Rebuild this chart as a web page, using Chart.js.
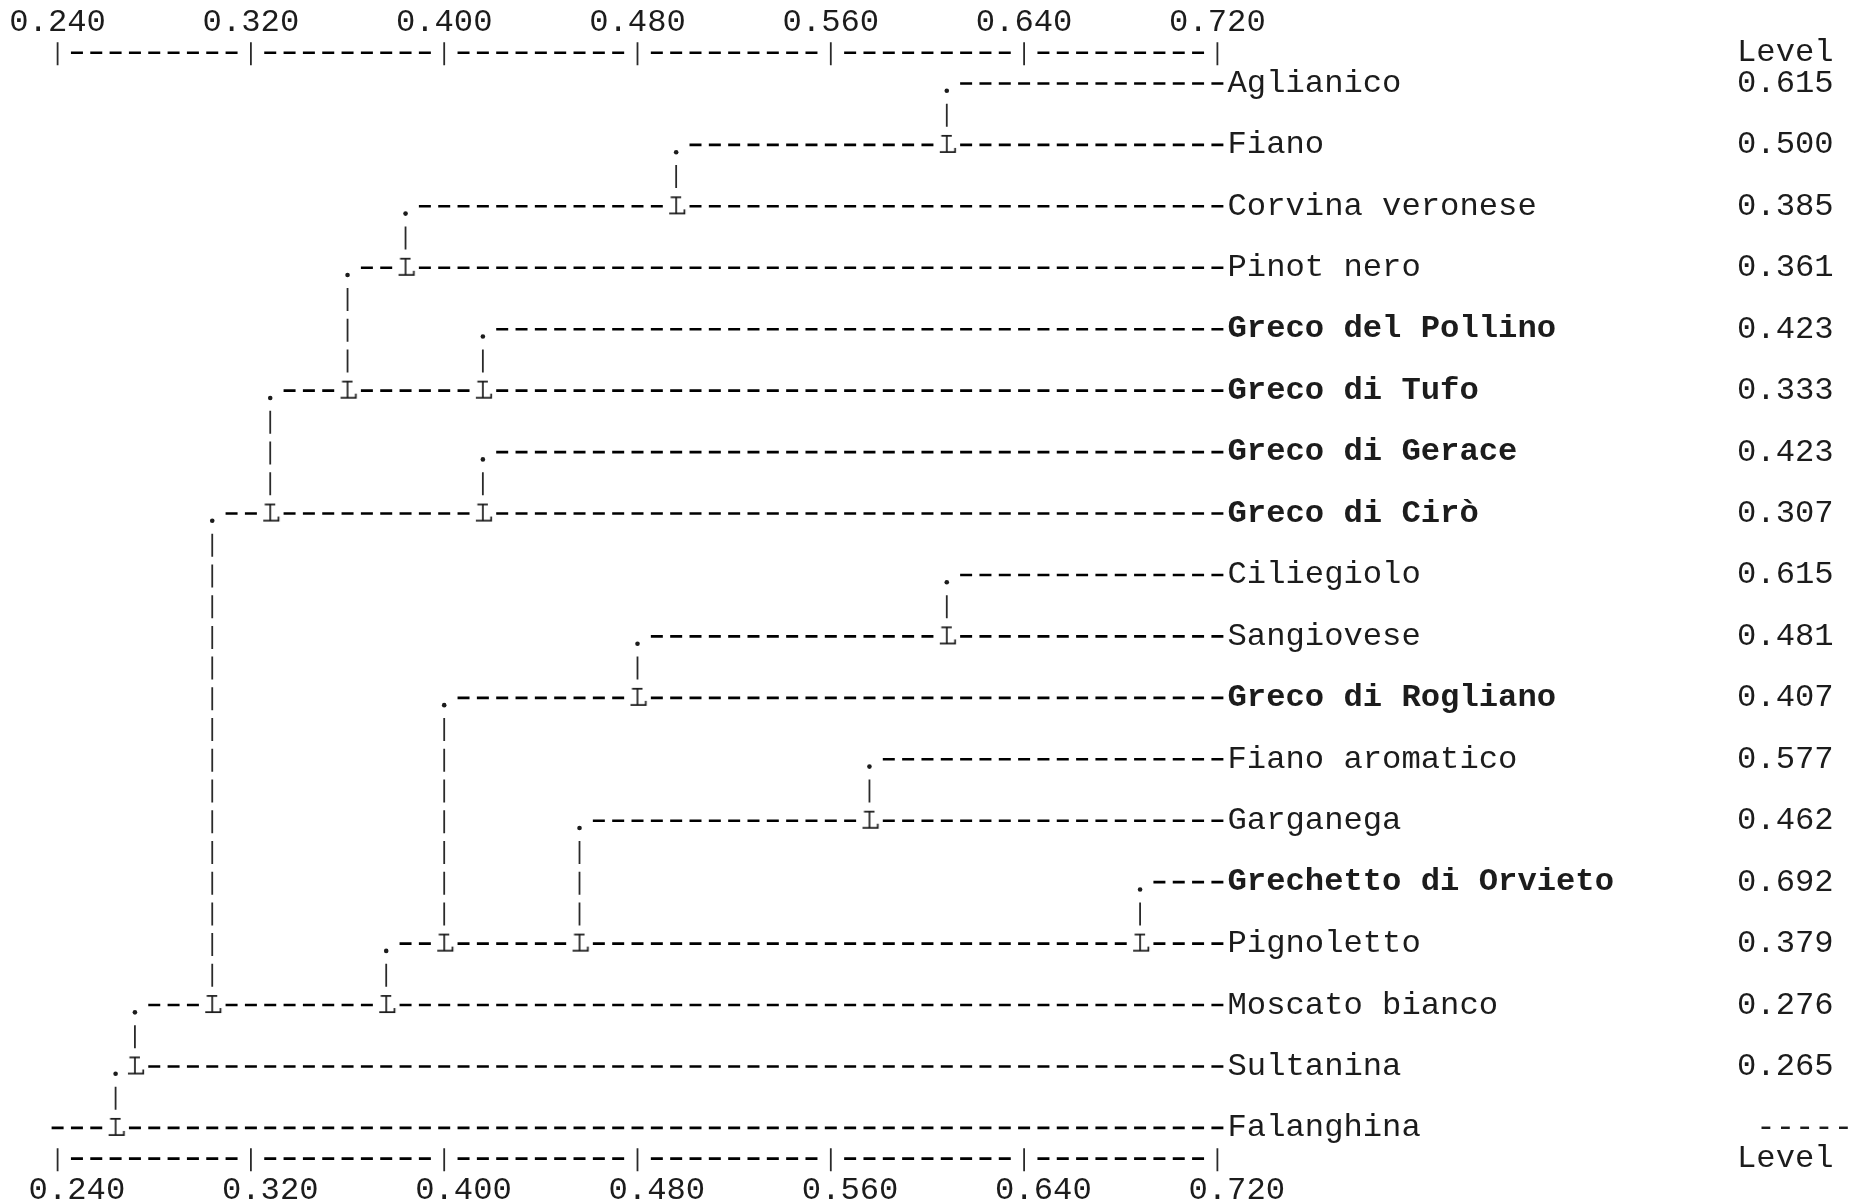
<!DOCTYPE html>
<html>
<head>
<meta charset="utf-8">
<script src="https://cdn.jsdelivr.net/npm/chart.js@4.4.1/dist/chart.umd.min.js"></script>
<style>
  html, body { margin: 0; padding: 0; background: #fff; overflow: hidden; }
  #wrap { width: 1854px; height: 1202px; }
</style>
</head>
<body>
<div id="wrap"><canvas id="dendro"></canvas></div>
<script>
// Text-style dendrogram of grape varieties, drawn on a character grid

const leaves = ['Aglianico', 'Fiano', 'Corvina veronese', 'Pinot nero', 'Greco del Pollino',
  'Greco di Tufo', 'Greco di Gerace', 'Greco di Cirò', 'Ciliegiolo', 'Sangiovese',
  'Greco di Rogliano', 'Fiano aromatico', 'Garganega', 'Grechetto di Orvieto', 'Pignoletto',
  'Moscato bianco', 'Sultanina', 'Falanghina'];
// level at which each leaf joins the cluster below it (last leaf has none)
const levels = [0.615, 0.500, 0.385, 0.361, 0.423, 0.333, 0.423, 0.307, 0.615, 0.481,
  0.407, 0.577, 0.462, 0.692, 0.379, 0.276, 0.265, null];
const boldLeaves = ['Greco del Pollino', 'Greco di Tufo', 'Greco di Gerace', 'Greco di Cirò',
  'Greco di Rogliano', 'Grechetto di Orvieto'];
const tickValues = [0.240, 0.320, 0.400, 0.480, 0.560, 0.640, 0.720];
const tickLabels = ['0.240', '0.320', '0.400', '0.480', '0.560', '0.640', '0.720'];

// grid of the text plot: one character = 0.008
const ORIGIN = 0.240, STEP = 0.008, LAST_COL = 60;
const CHAR_PX = 19.33, LINE_PX = 30.72, ROW_PX = 2 * LINE_PX;
const FONT_PX = CHAR_PX / 0.6;
const MONO = "'Liberation Mono', 'DejaVu Sans Mono', monospace";
const INK = '#1c1c1c';

const W = 1854, H = 1202;
const COL0_PX = 57.6, Y_W = 510.5, Y2_W = 117;
const AREA_W = W - Y_W - Y2_W;
const X_MIN = ORIGIN - COL0_PX / CHAR_PX * STEP;
const X_MAX = X_MIN + AREA_W / CHAR_PX * STEP;
const n = leaves.length;
const Y_MIN = -0.75, Y_MAX = n - 0.25;
const TOP_H = 22 + LINE_PX / 2;
const BOTTOM_H = H - TOP_H - (Y_MAX - Y_MIN) * ROW_PX;

const col = v => Math.floor((v - ORIGIN) / STEP + 1e-6);   // text plots truncate to a column
const cx = c => ORIGIN + c * STEP;
const dy = px => px / ROW_PX;

// merges: '.' on the upper row, 'L' on the last row of the lower cluster
const dots = [], lMarks = [], vRuns = [];
for (let j = 0; j < n - 1; j++) {
  const c = col(levels[j]);
  let m = j + 1;
  while (m < n - 1 && levels[m] > levels[j]) m++;
  dots.push({ x: cx(c), y: j + dy(7.3) });
  lMarks.push({ row: m, c: c });
  vRuns.push({ c: c, from: j + 0.5, to: m - 0.5 });
}

const dashPts = [], barPts = [];
function addDashes(y, start, end, blocked) {
  let a = start;
  for (let c = start; c <= end + 1; c++) {
    if (c > end || blocked.includes(c)) {
      if (c - 1 >= a) {
        dashPts.push({ x: cx(a - 0.31), y: y }, { x: cx(c - 1 + 0.31), y: y }, { x: cx(c - 1 + 0.31), y: null });
      }
      a = c + 1;
    }
  }
}
function addBar(c, from, to) {
  barPts.push({ x: cx(c), y: from - dy(10.5) }, { x: cx(c), y: to + dy(12.5) }, { x: cx(c), y: null });
}

for (let r = 0; r < n; r++) {
  const start = r < n - 1 ? col(levels[r]) + 1 : 0;
  addDashes(r, start, LAST_COL, lMarks.filter(l => l.row === r).map(l => l.c));
}
vRuns.forEach(v => addBar(v.c, v.from, v.to));

// the two rulers  |---------|---------| ...
const rulerRows = [-0.5, n - 0.5];
const rulerCols = tickValues.map(col);
rulerRows.forEach(y => {
  addDashes(y, 0, LAST_COL, rulerCols);
  rulerCols.forEach(c => addBar(c, y, y));
});

// serif 'L' used as point style
const lGlyph = document.createElement('canvas');
lGlyph.width = 26; lGlyph.height = 34;
(function () {
  const g = lGlyph.getContext('2d');
  g.strokeStyle = INK; g.lineWidth = 1.7; g.lineCap = 'butt';
  g.beginPath();
  g.moveTo(13, 7); g.lineTo(13, 25);
  g.moveTo(7.5, 7.8); g.lineTo(18, 7.8);
  g.moveTo(6, 24.2); g.lineTo(22, 24.2);
  g.moveTo(21.3, 25); g.lineTo(21.3, 20);
  g.stroke();
})();

const tickFont = { family: MONO, size: FONT_PX, lineHeight: 1 };
const noGrid = { display: false, drawTicks: false };
const noPad = s => { s.paddingLeft = 0; s.paddingRight = 0; s.paddingTop = 0; s.paddingBottom = 0; };

new Chart(document.getElementById('dendro'), {
  type: 'line',
  data: {
    datasets: [
      {
        data: dashPts, borderColor: '#000', borderWidth: 2.6,
        borderDash: [12, CHAR_PX - 12], borderCapStyle: 'butt', pointRadius: 0, tension: 0
      },
      {
        data: barPts, borderColor: '#2a2a2a', borderWidth: 1.8,
        borderDash: [23, LINE_PX - 23], borderCapStyle: 'butt', pointRadius: 0, tension: 0
      },
      {
        data: dots, showLine: false, pointStyle: 'circle', pointRadius: 2.3,
        pointBorderWidth: 0, pointBackgroundColor: INK
      },
      {
        data: lMarks.map(l => ({ x: cx(l.c), y: l.row })), showLine: false,
        pointStyle: lGlyph, pointRadius: 10
      }
    ]
  },
  options: {
    responsive: true,
    maintainAspectRatio: false,
    animation: false,
    events: [],
    layout: { padding: 0, autoPadding: false },
    plugins: { legend: { display: false }, tooltip: { enabled: false } },
    scales: {
      x: {
        type: 'linear', position: 'top', min: X_MIN, max: X_MAX,
        afterBuildTicks: s => { s.ticks = tickValues.map(v => ({ value: v })); },
        afterFit: s => { s.height = TOP_H; noPad(s); },
        grid: noGrid, border: { display: false },
        ticks: {
          autoSkip: false, maxRotation: 0, align: 'start', labelOffset: -2.5 * CHAR_PX,
          padding: -1.7, color: INK, font: tickFont,
          callback: (v, i) => tickLabels[i]
        }
      },
      x2: {
        type: 'linear', position: 'bottom', min: X_MIN, max: X_MAX,
        afterBuildTicks: s => { s.ticks = tickValues.map(v => ({ value: v })); },
        afterFit: s => { s.height = BOTTOM_H; noPad(s); },
        grid: noGrid, border: { display: false },
        ticks: {
          autoSkip: false, maxRotation: 0, align: 'start', labelOffset: -1.5 * CHAR_PX,
          padding: 0.3, color: INK, font: tickFont,
          callback: (v, i) => tickLabels[i]
        }
      },
      y: {
        type: 'linear', position: 'right', weight: 1, reverse: true, min: Y_MIN, max: Y_MAX,
        afterBuildTicks: s => { s.ticks = leaves.map((_, i) => ({ value: i })); },
        afterFit: s => { s.width = Y_W; noPad(s); },
        grid: noGrid, border: { display: false },
        ticks: {
          autoSkip: false, padding: 1, color: INK,
          font: ctx => ({
            family: MONO, size: FONT_PX, lineHeight: 1,
            weight: boldLeaves.includes(leaves[ctx.index]) ? 'bold' : 'normal'
          }),
          callback: (v, i) => leaves[i]
        }
      },
      y2: {
        type: 'linear', position: 'right', weight: 2, reverse: true, min: Y_MIN, max: Y_MAX,
        afterBuildTicks: s => {
          s.ticks = [-0.5].concat(leaves.map((_, i) => i), [n - 0.5]).map(v => ({ value: v }));
        },
        afterFit: s => { s.width = Y2_W; noPad(s); },
        grid: noGrid, border: { display: false },
        ticks: {
          autoSkip: false, padding: 0, color: INK, font: tickFont,
          callback: (v, i) => {
            if (i === 0 || i === n + 1) return 'Level';
            const lv = levels[i - 1];
            return lv == null ? ' -----' : lv.toFixed(3);
          }
        }
      }
    }
  }
});
</script>
</body>
</html>
